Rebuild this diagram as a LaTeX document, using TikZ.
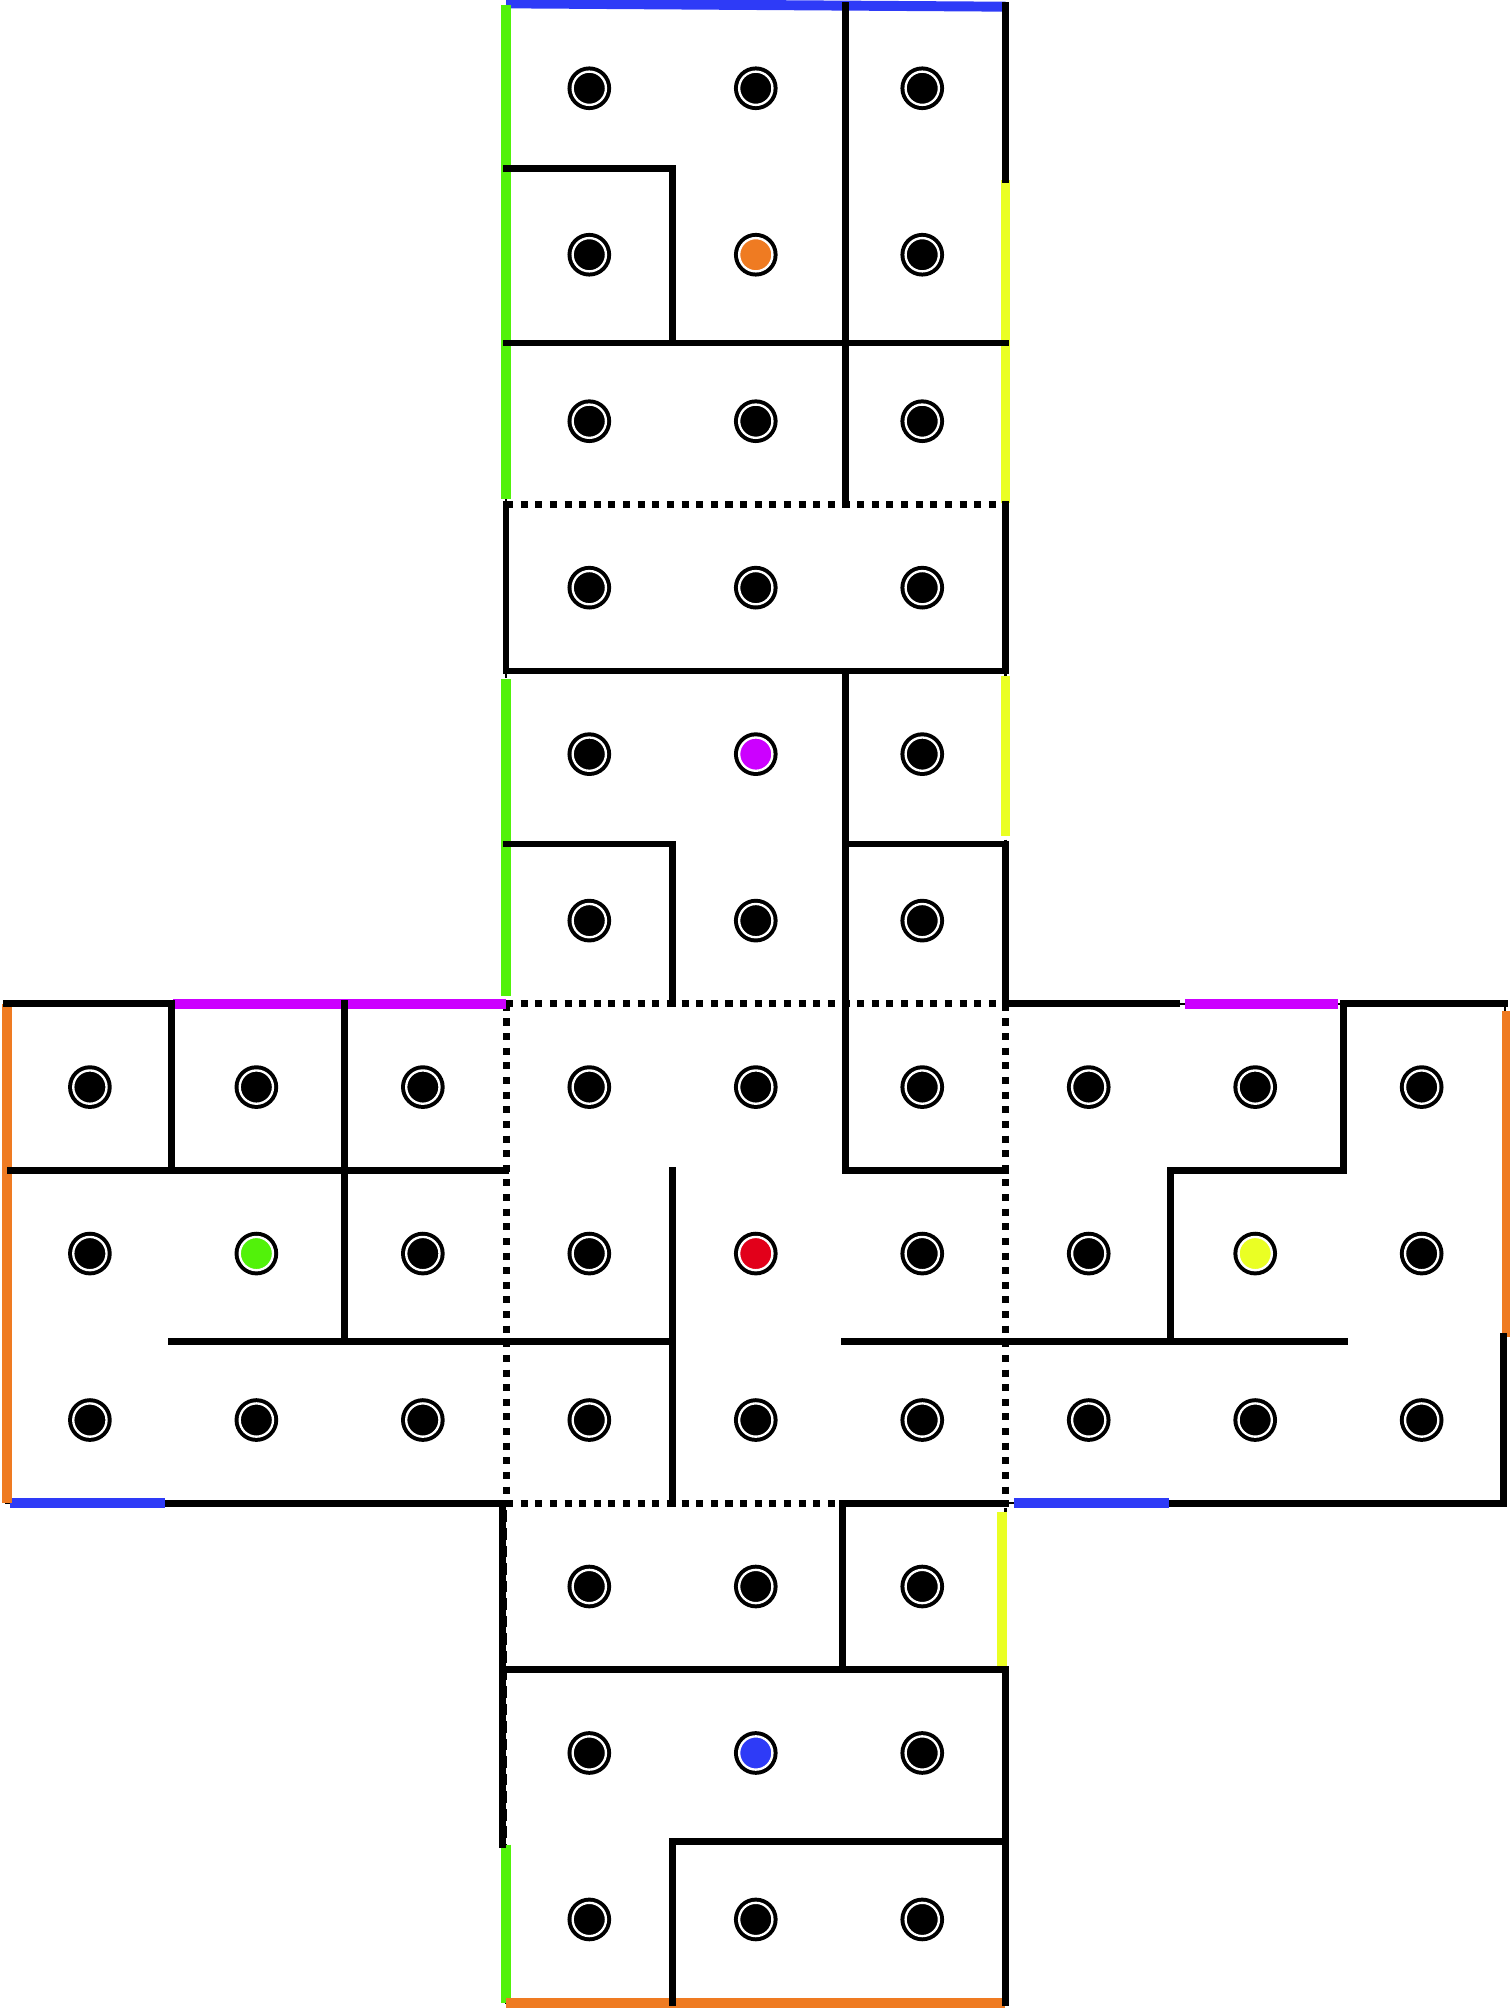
\documentclass[tikz,border=0pt]{standalone}
\usepackage{xcolor}
\definecolor{CubeGreen}{HTML}{52F20A}
\definecolor{CubeYellow}{HTML}{EAFF24}
\definecolor{CubeBlue}{HTML}{2E3BF7}
\definecolor{CubeOrange}{HTML}{EF7B22}
\definecolor{CubeMagenta}{HTML}{CC00FF}
\definecolor{CubeRed}{HTML}{E2001A}
\tikzset{
    % Line styles - walls, folds and glued seams
    wall/.style={
        line width=1.15pt,
        draw=black,
        line cap=rect
    },
    fold/.style={
        line width=1.2pt,
        draw=black,
        dash pattern=on 1.2pt off 1.3pt
    },
    netoutline/.style={
        line width=0.4pt,
        draw=black,
        dash pattern=on 2pt off 1pt
    },
    seam/.style={
        line width=1.7pt,
        draw=#1
    },
    % Ball style - black ring, thin white ring, coloured core
    ball/.style={
        circle,
        fill=#1,
        draw=white,
        line width=0.014cm,
        inner sep=0pt,
        minimum size=0.2cm,
        preaction={draw=black, line width=0.062cm}
    },
    ball/.default=black
}
\begin{document}
\begin{tikzpicture}[x=1cm, y=-1cm]
    \useasboundingbox (-0.04,-0.03) rectangle (9.03,12.05);

    % outline of the net and the folds
    \draw[netoutline] (3,0) -- (6,0) -- (6,6) -- (9,6) -- (9,9) -- (6,9) -- (6,12) -- (3,12) -- (3,9) -- (0,9) -- (0,6) -- (3,6) -- cycle;
    \draw[fold] (3,3) -- (6,3);
    \draw[fold] (3,6) -- (6,6);
    \draw[fold] (3,6) -- (3,9);
    \draw[fold] (6,6) -- (6,9);
    \draw[fold] (3,9) -- (5,9);

    % coloured seams
    \draw[seam=CubeBlue] (3,-0.01) -- (6,0.01);
    \draw[seam=CubeBlue] (0.02,9) -- (0.95,9);
    \draw[seam=CubeBlue] (6.05,9) -- (6.98,9);
    \draw[seam=CubeGreen] (3,0) -- (3,2.97);
    \draw[seam=CubeGreen] (3,4.05) -- (3,5.95);
    \draw[seam=CubeGreen] (3,11.05) -- (3,12);
    \draw[seam=CubeYellow] (6,1.05) -- (6,2.99);
    \draw[seam=CubeYellow] (6,4.03) -- (6,4.99);
    \draw[seam=CubeYellow] (5.98,9.05) -- (5.98,9.98);
    \draw[seam=CubeOrange] (0,6) -- (0,9);
    \draw[seam=CubeOrange] (9.01,6.04) -- (9.01,8);
    \draw[seam=CubeOrange] (3,12) -- (6,12);
    \draw[seam=CubeMagenta] (1,6) -- (3,6);
    \draw[seam=CubeMagenta] (7.08,6) -- (8,6);

    % outer walls
    \draw[wall] (6,0) -- (6,1.05);
    \draw[wall] (3,3) -- (3,4);
    \draw[wall] (6,3) -- (6,4);
    \draw[wall] (6,5.04) -- (6,6);
    \draw[wall] (0,6) -- (0.98,6);
    \draw[wall] (0.97,9) -- (2.98,9) -- (2.98,11.05);
    \draw[wall] (6,6) -- (7.03,6);
    \draw[wall] (8.03,6) -- (9,6);
    \draw[wall] (8.99,8) -- (8.99,9) -- (7,9);
    \draw[wall] (5.02,9) -- (6,9);
    \draw[wall] (6,10) -- (6,12);

    % inner walls
    \draw[wall] (3,0.98) -- (4,0.98) -- (4,2.03);
    \draw[wall] (3,2.03) -- (6,2.03);
    \draw[wall] (5.04,0) -- (5.04,3);
    \draw[wall] (3,4) -- (6,4);
    \draw[wall] (5.04,4) -- (5.04,7) -- (6,7);
    \draw[wall] (3,5.04) -- (4,5.04) -- (4,6);
    \draw[wall] (5.04,5.04) -- (6,5.04);
    \draw[wall] (0.99,6) -- (0.99,7);
    \draw[wall] (0.02,7) -- (3,7);
    \draw[wall] (2.03,6) -- (2.03,8.03);
    \draw[wall] (0.99,8.03) -- (4,8.03);
    \draw[wall] (4,7) -- (4,9);
    \draw[wall] (5.03,8.03) -- (8.04,8.03);
    \draw[wall] (8.03,6) -- (8.03,7) -- (6.99,7) -- (6.99,8.03);
    \draw[wall] (5.02,9) -- (5.02,10);
    \draw[wall] (3,10) -- (6,10);
    \draw[wall] (4,12) -- (4,11.03) -- (6,11.03);

    % top face
    \node[ball] (t1) at (3.5,0.5) {};
    \node[ball] (t2) at (4.5,0.5) {};
    \node[ball] (t3) at (5.5,0.5) {};
    \node[ball] (t4) at (3.5,1.5) {};
    \node[ball=CubeOrange] (t5) at (4.5,1.5) {};
    \node[ball] (t6) at (5.5,1.5) {};
    \node[ball] (t7) at (3.5,2.5) {};
    \node[ball] (t8) at (4.5,2.5) {};
    \node[ball] (t9) at (5.5,2.5) {};

    % upper face
    \node[ball] (u1) at (3.5,3.5) {};
    \node[ball] (u2) at (4.5,3.5) {};
    \node[ball] (u3) at (5.5,3.5) {};
    \node[ball] (u4) at (3.5,4.5) {};
    \node[ball=CubeMagenta] (u5) at (4.5,4.5) {};
    \node[ball] (u6) at (5.5,4.5) {};
    \node[ball] (u7) at (3.5,5.5) {};
    \node[ball] (u8) at (4.5,5.5) {};
    \node[ball] (u9) at (5.5,5.5) {};

    % left face
    \node[ball] (l1) at (0.5,6.5) {};
    \node[ball] (l2) at (1.5,6.5) {};
    \node[ball] (l3) at (2.5,6.5) {};
    \node[ball] (l4) at (0.5,7.5) {};
    \node[ball=CubeGreen] (l5) at (1.5,7.5) {};
    \node[ball] (l6) at (2.5,7.5) {};
    \node[ball] (l7) at (0.5,8.5) {};
    \node[ball] (l8) at (1.5,8.5) {};
    \node[ball] (l9) at (2.5,8.5) {};

    % centre face
    \node[ball] (c1) at (3.5,6.5) {};
    \node[ball] (c2) at (4.5,6.5) {};
    \node[ball] (c3) at (5.5,6.5) {};
    \node[ball] (c4) at (3.5,7.5) {};
    \node[ball=CubeRed] (c5) at (4.5,7.5) {};
    \node[ball] (c6) at (5.5,7.5) {};
    \node[ball] (c7) at (3.5,8.5) {};
    \node[ball] (c8) at (4.5,8.5) {};
    \node[ball] (c9) at (5.5,8.5) {};

    % right face
    \node[ball] (r1) at (6.5,6.5) {};
    \node[ball] (r2) at (7.5,6.5) {};
    \node[ball] (r3) at (8.5,6.5) {};
    \node[ball] (r4) at (6.5,7.5) {};
    \node[ball=CubeYellow] (r5) at (7.5,7.5) {};
    \node[ball] (r6) at (8.5,7.5) {};
    \node[ball] (r7) at (6.5,8.5) {};
    \node[ball] (r8) at (7.5,8.5) {};
    \node[ball] (r9) at (8.5,8.5) {};

    % bottom face
    \node[ball] (b1) at (3.5,9.5) {};
    \node[ball] (b2) at (4.5,9.5) {};
    \node[ball] (b3) at (5.5,9.5) {};
    \node[ball] (b4) at (3.5,10.5) {};
    \node[ball=CubeBlue] (b5) at (4.5,10.5) {};
    \node[ball] (b6) at (5.5,10.5) {};
    \node[ball] (b7) at (3.5,11.5) {};
    \node[ball] (b8) at (4.5,11.5) {};
    \node[ball] (b9) at (5.5,11.5) {};
\end{tikzpicture}
\end{document}
